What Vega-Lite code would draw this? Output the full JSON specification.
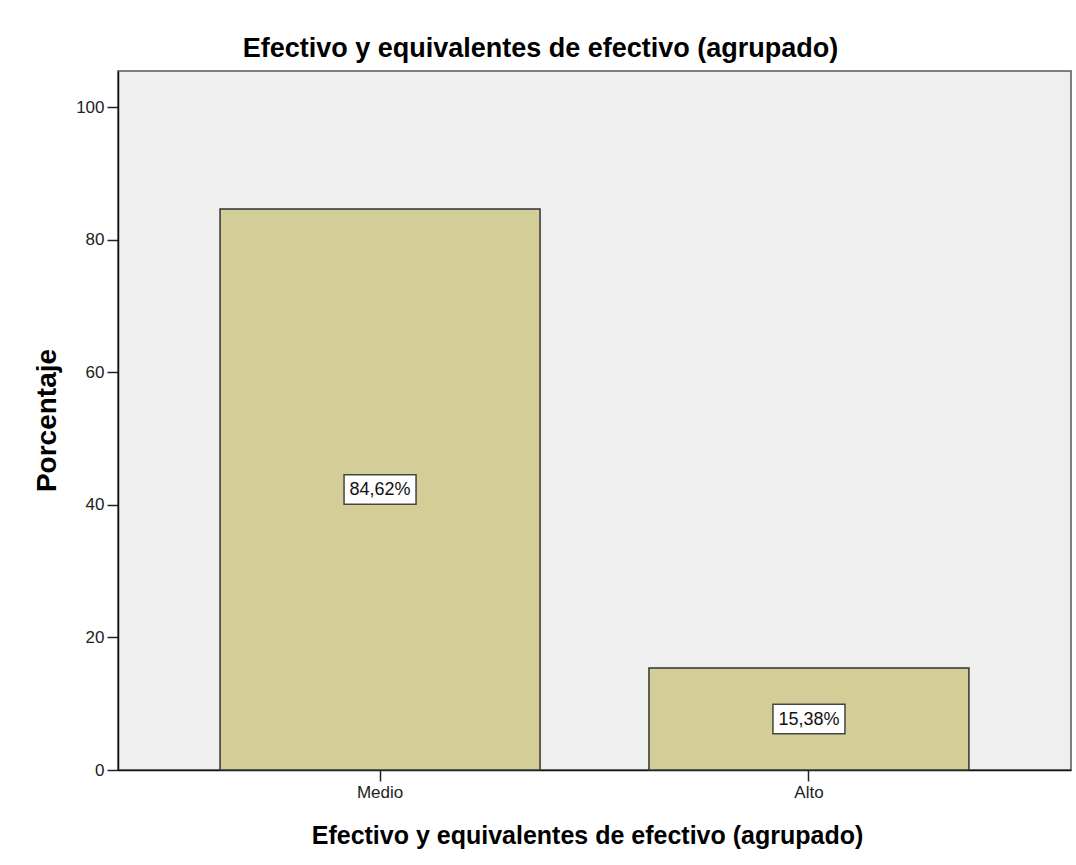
{
  "$schema": "https://vega.github.io/schema/vega-lite/v6.json",
  "autosize": "none",
  "padding": {"left": 118, "top": 71, "right": 5, "bottom": 94},
  "width": 953,
  "height": 699,
  "background": "white",
  "title": {
    "text": "Efectivo y equivalentes de efectivo (agrupado)",
    "font": "Liberation Sans",
    "fontSize": 27,
    "fontWeight": "bold",
    "color": "#000000",
    "baseline": "alphabetic",
    "offset": 11,
    "dy": 24,
    "dx": -54
  },
  "data": {
    "values": [
      {"categoria": "Medio", "porcentaje": 84.62, "etiqueta": "84,62%"},
      {"categoria": "Alto", "porcentaje": 15.38, "etiqueta": "15,38%"}
    ]
  },
  "encoding": {
    "x": {
      "field": "categoria",
      "type": "nominal",
      "sort": null,
      "scale": {"paddingInner": 0.254, "paddingOuter": 0.238},
      "axis": {
        "title": "Efectivo y equivalentes de efectivo (agrupado)",
        "titleFont": "Liberation Sans",
        "titleFontSize": 25,
        "titleFontWeight": "bold",
        "titleColor": "#000000",
        "titleBaseline": "alphabetic",
        "titleX": 469,
        "titleY": 73,
        "labelAngle": 0,
        "labelFont": "Liberation Sans",
        "labelFontSize": 17,
        "labelColor": "#222222",
        "labelPadding": 3,
        "tickSize": 11,
        "tickColor": "#222222",
        "tickWidth": 1.5,
        "domainColor": "#111111",
        "domainWidth": 1.5
      }
    }
  },
  "layer": [
    {
      "mark": {"type": "bar", "fill": "#D3CE98", "stroke": "#333333", "strokeWidth": 1.5},
      "encoding": {
        "y": {
          "field": "porcentaje",
          "type": "quantitative",
          "scale": {"domain": [0, 105.43], "nice": false},
          "axis": {
            "title": "Porcentaje",
            "titleFont": "Liberation Sans",
            "titleFontSize": 28,
            "titleFontWeight": "bold",
            "titleColor": "#000000",
            "titleBaseline": "alphabetic",
            "titleAngle": -90,
            "titleX": -63,
            "titleY": 349,
            "values": [0, 20, 40, 60, 80, 100],
            "grid": false,
            "labelFont": "Liberation Sans",
            "labelFontSize": 17,
            "labelColor": "#222222",
            "labelPadding": 3,
            "tickSize": 11,
            "tickColor": "#222222",
            "tickWidth": 1.5,
            "domainColor": "#111111",
            "domainWidth": 1.5
          }
        }
      }
    },
    {
      "transform": [{"calculate": "datum.porcentaje / 2", "as": "mitad"}],
      "mark": {
        "type": "point",
        "shape": "M-1,-0.41H1V0.41H-1Z",
        "size": 5184,
        "filled": true,
        "fill": "#FFFFFF",
        "stroke": "#444444",
        "strokeWidth": 1.5,
        "opacity": 1
      },
      "encoding": {
        "y": {"field": "mitad", "type": "quantitative", "scale": {"domain": [0, 105.43], "nice": false}}
      }
    },
    {
      "transform": [{"calculate": "datum.porcentaje / 2", "as": "mitad"}],
      "mark": {
        "type": "text",
        "font": "Liberation Sans",
        "fontSize": 18,
        "color": "#111111",
        "baseline": "middle",
        "align": "center",
        "dy": 1
      },
      "encoding": {
        "y": {"field": "mitad", "type": "quantitative", "scale": {"domain": [0, 105.43], "nice": false}},
        "text": {"field": "etiqueta", "type": "nominal"}
      }
    }
  ],
  "config": {
    "view": {"fill": "#EFEFEF", "stroke": "#555555", "strokeWidth": 1.5}
  }
}
